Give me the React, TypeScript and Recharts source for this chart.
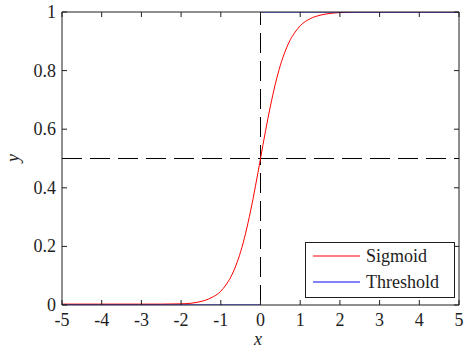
import React from 'react';
import { LineChart, Line, XAxis, YAxis, ReferenceLine, Customized } from 'recharts';

const xTicks = [-5, -4, -3, -2, -1, 0, 1, 2, 3, 4, 5];
const yTicks = [0, 0.2, 0.4, 0.6, 0.8, 1];

// sigmoid curve
const sigmoidX = [-5, -4, -3, -2.5, -2, -1.75, -1.5, -1.25, -1, -0.875, -0.75, -0.625, -0.5, -0.375, -0.25, -0.125, 0, 0.125, 0.25, 0.375, 0.5, 0.625, 0.75, 0.875, 1, 1.25, 1.5, 1.75, 2, 2.5, 3, 4, 5];
const sigmoidY = [0.003, 0.003, 0.003, 0.003, 0.004, 0.006, 0.012, 0.024, 0.047, 0.068, 0.095, 0.133, 0.182, 0.245, 0.321, 0.407, 0.5, 0.593, 0.679, 0.755, 0.818, 0.867, 0.905, 0.932, 0.953, 0.977, 0.989, 0.995, 0.998, 1, 1, 1, 1];

// step function, with a break at x = 0
const thresholdX = [-5, 0, 0, 0, 5];
const thresholdY = [0, 0, null, 1, 1];

const seriesNames = ['Sigmoid', 'Threshold'];
const seriesColors = ['#ff0000', '#0000ff'];

const crossX = 0;
const crossY = 0.5;

const sigmoidData = sigmoidX.map((x, i) => ({ x, y: sigmoidY[i] }));
const thresholdData = thresholdX.map((x, i) => ({ x, y: thresholdY[i] }));

const FONT = '"Liberation Serif", "Times New Roman", serif';
const INK = '#1e1e1e';

const XTick = (props: any) => (
  <text x={props.x} y={props.y + 13} textAnchor="middle" fontFamily={FONT} fontSize={18} fill={INK}>
    {props.payload.value}
  </text>
);

const YTick = (props: any) => (
  <text x={props.x} y={props.y + 6} textAnchor="end" fontFamily={FONT} fontSize={18} fill={INK}>
    {props.payload.value}
  </text>
);

const Overlay = () => (
  <g fontFamily={FONT} fill={INK}>
    {/* axis titles */}
    <text x={258} y={345} fontSize={18} fontStyle="italic" textAnchor="middle">x</text>
    <text x={19} y={158} fontSize={18} fontStyle="italic" textAnchor="middle" transform="rotate(-90 19 158)">y</text>
    {/* legend */}
    <rect x={305.5} y={242.5} width={149} height={55} fill="#fff" stroke={INK} strokeWidth={1} />
    {seriesNames.map((name, i) => (
      <g key={name}>
        <line x1={313} x2={360} y1={256 + i * 26} y2={256 + i * 26} stroke={seriesColors[i]} strokeWidth={1} />
        <text x={366} y={262 + i * 26} fontSize={18}>{name}</text>
      </g>
    ))}
  </g>
);

export default function App() {
  return (
    <div style={{ position: 'absolute', left: 0, top: 0, background: '#fff' }}>
      <LineChart width={469} height={352} margin={{ top: 0, right: 0, bottom: 0, left: 0 }}>
        <XAxis
          xAxisId="b"
          dataKey="x"
          type="number"
          domain={[-5, 5]}
          ticks={xTicks}
          allowDataOverflow
          height={47}
          stroke={INK}
          tickSize={-5}
          tickMargin={13}
          tick={XTick}
        />
        <XAxis
          xAxisId="t"
          orientation="top"
          dataKey="x"
          type="number"
          domain={[-5, 5]}
          ticks={xTicks}
          allowDataOverflow
          height={12}
          stroke={INK}
          tickSize={-5}
          tickFormatter={() => ''}
        />
        <YAxis
          yAxisId="l"
          type="number"
          domain={[0, 1]}
          ticks={yTicks}
          allowDataOverflow
          width={62}
          stroke={INK}
          tickSize={-5}
          tickMargin={11}
          tick={YTick}
        />
        <YAxis
          yAxisId="r"
          orientation="right"
          type="number"
          domain={[0, 1]}
          ticks={yTicks}
          allowDataOverflow
          width={10}
          stroke={INK}
          tickSize={-5}
          tickFormatter={() => ''}
        />
        <ReferenceLine xAxisId="b" yAxisId="l" x={crossX} stroke="#000" strokeDasharray="20 8" />
        <ReferenceLine xAxisId="b" yAxisId="l" y={crossY} stroke="#000" strokeDasharray="20 8" />
        <Line
          xAxisId="b"
          yAxisId="l"
          data={sigmoidData}
          dataKey="y"
          type="monotone"
          stroke={seriesColors[0]}
          strokeWidth={1}
          dot={false}
          isAnimationActive={false}
        />
        <Line
          xAxisId="b"
          yAxisId="l"
          data={thresholdData}
          dataKey="y"
          type="linear"
          stroke={seriesColors[1]}
          strokeWidth={1}
          dot={false}
          isAnimationActive={false}
        />
        <Customized component={Overlay} />
      </LineChart>
    </div>
  );
}
